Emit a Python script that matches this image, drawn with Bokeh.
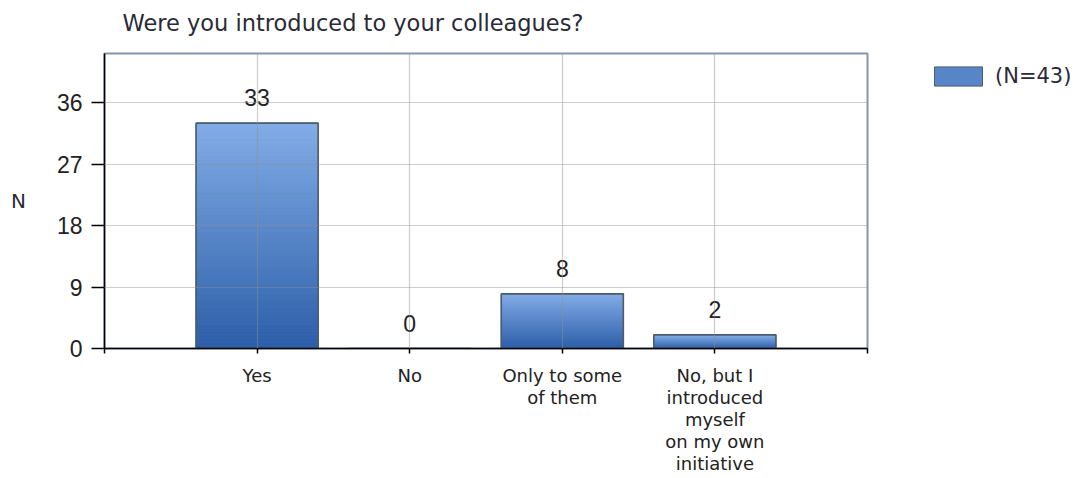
from bokeh.plotting import figure
from bokeh.layouts import row, column
from bokeh.models import ColumnDataSource, FixedTicker, Range1d, Legend, LegendItem, Label
from bokeh.embed import file_html
from bokeh.resources import INLINE
from bokeh.core.properties import value

# ---- data ----
title_text = "Were you introduced to your colleagues?"
categories = ["Yes", "No", "Only to some\nof them",
              "No, but I\nintroduced\nmyself\non my own\ninitiative"]
counts = [33, 0, 8, 2]
y_ticks = [0, 9, 18, 27, 36]
series_name = "(N=43)"
y_label = "N"

positions = list(range(1, len(categories) + 1))
n_slots = len(categories) + 1

TOTAL_W, MAIN_W, LEG_W, H, TITLE_H = 1081, 881, 200, 478, 40
BODY_H = H - TITLE_H
TOP_B = 53 - TITLE_H

# ---- title strip ----
pt = figure(width=TOTAL_W, height=TITLE_H, output_backend="svg", toolbar_location=None,
            x_axis_type=None, y_axis_type=None, min_border=0, title=None)
pt.outline_line_color = None
pt.background_fill_color = "white"
pt.border_fill_color = "white"
pt.add_layout(Label(x=122, y=TITLE_H - 22, x_units="screen", y_units="screen",
                    text=title_text, text_baseline="middle", text_align="left",
                    text_font="DejaVu Sans", text_font_size="22.5px",
                    text_color="#2a2a38"))

# ---- main chart ----
p = figure(width=MAIN_W, height=BODY_H, title=None,
           x_range=Range1d(0, n_slots), y_range=Range1d(0, 43.2),
           output_backend="svg", toolbar_location=None,
           min_border_left=104, min_border_right=14,
           min_border_top=TOP_B, min_border_bottom=130)
p.background_fill_color = "white"
p.border_fill_color = "white"
p.outline_line_color = "#8595aa"
p.outline_line_width = 2

# gradient bars built from stacked slices of each bar
N_SEG = 80
c_bot = (44, 94, 168)
c_top = (130, 172, 230)
xs, bots, tops, cols = [], [], [], []
for x, v in zip(positions, counts):
    for i in range(N_SEG):
        f = (i + 0.5) / N_SEG
        r = int(round(c_bot[0] + (c_top[0] - c_bot[0]) * f))
        g = int(round(c_bot[1] + (c_top[1] - c_bot[1]) * f))
        b = int(round(c_bot[2] + (c_top[2] - c_bot[2]) * f))
        xs.append(x)
        bots.append(v * i / N_SEG)
        tops.append(v * (i + 1) / N_SEG)
        cols.append("#%02x%02x%02x" % (r, g, b))
seg_src = ColumnDataSource(dict(x=xs, bottom=bots, top=tops, color=cols))
p.vbar(x="x", bottom="bottom", top="top", width=0.8, source=seg_src,
       fill_color="color", line_color="color", line_width=1.0)

src = ColumnDataSource(dict(x=positions, top=counts, label=[str(c) for c in counts]))
p.vbar(x="x", top="top", width=0.8, source=src, fill_alpha=0,
       line_color="#4d5b6e", line_width=1.6)

# value labels
p.text(x="x", y="top", text="label", source=src, text_align="center",
       text_baseline="bottom", y_offset=-17,
       text_font=value("Liberation Sans"), text_font_size="23px", text_color="#222222")

# axes
p.yaxis.ticker = FixedTicker(ticks=y_ticks)
p.yaxis.major_label_text_font = "Liberation Sans"
p.yaxis.major_label_text_font_size = "23px"
p.yaxis.major_label_text_color = "#222222"
p.yaxis.major_tick_out = 13
p.yaxis.major_tick_in = 0
p.yaxis.minor_tick_line_color = None
p.yaxis.major_label_standoff = 9
p.yaxis.axis_line_color = "black"
p.yaxis.axis_line_width = 1.5
p.yaxis.major_tick_line_width = 1.5
p.yaxis.axis_label = y_label
p.yaxis.axis_label_orientation = "horizontal"
p.yaxis.axis_label_text_font = "DejaVu Sans"
p.yaxis.axis_label_text_font_size = "20px"
p.yaxis.axis_label_text_font_style = "normal"
p.yaxis.axis_label_text_color = "#2a2a38"
p.yaxis.axis_label_standoff = 28

p.xaxis.ticker = FixedTicker(ticks=[0] + positions + [n_slots])
overrides = {0: "", n_slots: ""}
for x, c in zip(positions, categories):
    overrides[x] = c
p.xaxis.major_label_overrides = overrides
p.xaxis.major_label_text_font = "DejaVu Sans"
p.xaxis.major_label_text_font_size = "18px"
p.xaxis.major_label_text_line_height = 1.05
p.xaxis.major_label_text_color = "#222222"
p.xaxis.major_tick_out = 5
p.xaxis.major_tick_in = 0
p.xaxis.minor_tick_line_color = None
p.xaxis.major_label_standoff = 11
p.xaxis.axis_line_color = "black"
p.xaxis.axis_line_width = 1.5
p.xaxis.major_tick_line_width = 1.5

# grids
p.xgrid.ticker = FixedTicker(ticks=positions)
p.ygrid.ticker = FixedTicker(ticks=y_ticks)
for gr in (p.xgrid, p.ygrid):
    gr.grid_line_color = "#909090"
    gr.grid_line_alpha = 0.45
    gr.grid_line_width = 1.2
    gr.level = "overlay"

# ---- legend panel (separate small figure to the right) ----
pl = figure(width=LEG_W, height=BODY_H, output_backend="svg", toolbar_location=None,
            x_axis_type=None, y_axis_type=None, title=None,
            min_border_left=36, min_border_top=TOP_B,
            min_border_right=0, min_border_bottom=0)
pl.outline_line_color = None
pl.background_fill_color = "white"
pl.border_fill_color = "white"
leg_r = pl.vbar(x="x", bottom="bottom", top="top", width=0.8, source=seg_src,
                fill_color="color", line_color="#4d5b6e", line_width=1.0, visible=False)
legend = Legend(items=[LegendItem(label=series_name, renderers=[leg_r], index=N_SEG // 2)],
                location="top_left", glyph_width=60, glyph_height=24,
                label_standoff=7, padding=0, margin=11,
                border_line_alpha=0, background_fill_alpha=0,
                inactive_fill_alpha=0,
                label_text_font="DejaVu Sans", label_text_font_size="21px",
                label_text_color="#2a2a38")
pl.add_layout(legend)

layout = column(pt, row(p, pl))
open("out.html", "w").write(file_html(layout, INLINE))
